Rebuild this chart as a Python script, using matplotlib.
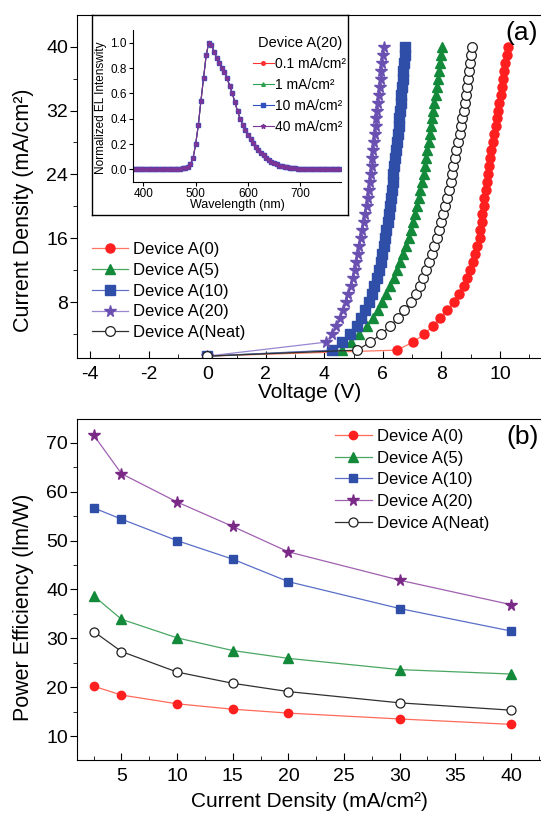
import matplotlib
matplotlib.use("Agg")
import matplotlib.pyplot as plt
from matplotlib.ticker import MultipleLocator, FormatStrFormatter

plt.rcParams['font.family'] = ['Liberation Sans', 'DejaVu Sans']
plt.rcParams['axes.unicode_minus'] = False

# ---- panel (a): J-V curves (current sweep levels, mA/cm2) ----
j_levels = [2, 3, 4, 5, 6, 7, 8, 9, 10, 11, 12, 13, 14, 15, 16, 17, 18, 19, 20,
            21, 22, 23, 24, 25, 26, 27, 28, 29, 30, 31, 32, 33, 34, 35, 36, 37,
            38, 39, 40]
j_start = 1.25  # point at 0 V

v_a0 = [6.47, 7.04, 7.41, 7.70, 7.95, 8.18, 8.42, 8.60, 8.76, 8.88, 8.98, 9.07,
        9.15, 9.23, 9.30, 9.33, 9.37, 9.40, 9.44, 9.47, 9.51, 9.54, 9.58, 9.62,
        9.66, 9.70, 9.75, 9.80, 9.85, 9.89, 9.94, 9.98, 10.02, 10.06, 10.10,
        10.14, 10.18, 10.23, 10.28]
v_a5 = [4.60, 4.90, 5.20, 5.45, 5.65, 5.82, 5.98, 6.12, 6.25, 6.37, 6.48, 6.58,
        6.68, 6.78, 6.88, 6.95, 7.02, 7.09, 7.16, 7.22, 7.28, 7.34, 7.39, 7.44,
        7.48, 7.52, 7.56, 7.60, 7.64, 7.68, 7.72, 7.76, 7.80, 7.84, 7.87, 7.91,
        7.94, 7.98, 8.01]
v_a10 = [4.26, 4.60, 4.88, 5.10, 5.26, 5.40, 5.52, 5.62, 5.71, 5.79, 5.86, 5.92,
         5.98, 6.03, 6.08, 6.12, 6.16, 6.20, 6.24, 6.27, 6.30, 6.33, 6.36, 6.39,
         6.42, 6.45, 6.48, 6.51, 6.54, 6.56, 6.59, 6.61, 6.63, 6.65, 6.67, 6.69,
         6.71, 6.74, 6.76]
v_a20 = [4.06, 4.25, 4.40, 4.52, 4.63, 4.74, 4.82, 4.90, 4.97, 5.03, 5.09,
         5.15, 5.20, 5.25, 5.30, 5.35, 5.39, 5.44, 5.48, 5.51, 5.55, 5.58, 5.62,
         5.64, 5.67, 5.70, 5.73, 5.76, 5.78, 5.81, 5.84, 5.86, 5.89, 5.92, 5.95,
         5.97, 6.00, 6.04]   # starts at 3 mA/cm2
v_neat = [5.13, 5.56, 5.94, 6.24, 6.50, 6.72, 6.95, 7.12, 7.26, 7.38, 7.48, 7.58,
          7.67, 7.76, 7.85, 7.92, 7.99, 8.06, 8.13, 8.19, 8.25, 8.31, 8.36, 8.41,
          8.46, 8.51, 8.56, 8.62, 8.67, 8.71, 8.76, 8.80, 8.84, 8.88, 8.91, 8.94,
          8.97, 9.00, 9.03]

# ---- inset: EL spectrum of Device A(20) ----
wl = [380, 385, 390, 395, 400, 405, 410, 415, 420, 425, 430, 435, 440, 445, 450,
      455, 460, 465, 470, 475, 480, 485, 490, 495, 500, 505, 510, 515, 520, 525,
      530, 535, 540, 545, 550, 555, 560, 565, 570, 575, 580, 585, 590, 595, 600,
      605, 610, 615, 620, 625, 630, 635, 640, 645, 650, 655, 660, 665, 670, 675,
      680, 685, 690, 695, 700, 705, 710, 715, 720, 725, 730, 735, 740, 745, 750,
      755, 760, 765, 770, 775]
el = [0.0, 0.0, 0.0, 0.0, 0.0, 0.0, 0.0, 0.0, 0.0, 0.0, 0.0, 0.0, 0.0, 0.0, 0.0,
      0.0, 0.0, 0.002, 0.004, 0.008, 0.013, 0.022, 0.04, 0.09, 0.20, 0.35, 0.54,
      0.72, 0.90, 1.0, 0.985, 0.93, 0.88, 0.84, 0.80, 0.77, 0.72, 0.66, 0.60,
      0.53, 0.46, 0.40, 0.35, 0.31, 0.27, 0.24, 0.21, 0.18, 0.155, 0.13, 0.11,
      0.09, 0.075, 0.06, 0.05, 0.04, 0.03, 0.025, 0.02, 0.015, 0.012, 0.01,
      0.008, 0.006, 0.005, 0.004, 0.003, 0.002, 0.002, 0.001, 0.001, 0.0, 0.0,
      0.0, 0.0, 0.0, 0.0, 0.0, 0.0, 0.0]
el_labels = ['0.1 mA/cm²', '1 mA/cm²', '10 mA/cm²', '40 mA/cm²']

# ---- panel (b): power efficiency ----
jd = [2.5, 5, 10, 15, 20, 30, 40]
pe_a0 = [20.2, 18.4, 16.6, 15.5, 14.7, 13.5, 12.4]
pe_a5 = [38.7, 33.9, 30.1, 27.5, 25.9, 23.6, 22.7]
pe_a10 = [56.7, 54.4, 50.0, 46.2, 41.6, 36.1, 31.5]
pe_a20 = [71.6, 63.7, 57.9, 52.9, 47.7, 41.9, 36.9]
pe_neat = [31.4, 27.3, 23.1, 20.8, 19.1, 16.8, 15.3]

names = ['Device A(0)', 'Device A(5)', 'Device A(10)', 'Device A(20)', 'Device A(Neat)']

fig = plt.figure(figsize=(5.41, 8.18), dpi=100)

# ================= panel (a) =================
ax1 = fig.add_axes([0.1423, 0.5627, 0.8577, 0.4184])
styles_a = [
    dict(marker='o', ms=6.5, mfc='#ff1f1f', mec='#ff1f1f', color='#ff7565'),
    dict(marker='^', ms=7.5, mfc='#13893a', mec='#13893a', color='#4aa762'),
    dict(marker='s', ms=6.5, mfc='#2f4ea8', mec='#2f4ea8', color='#6072c8'),
    dict(marker='*', ms=8.5, mfc='#6a50b0', mec='#6a50b0', color='#9886d0'),
    dict(marker='o', ms=7, mfc='white', mec='#202020', mew=0.9, color='#303030'),
]
jv = [(v_a0, j_levels), (v_a5, j_levels), (v_a10, j_levels),
      (v_a20, j_levels[1:]), (v_neat, j_levels)]
for (vv, jj), st, nm in zip(jv, styles_a, names):
    ax1.plot([0] + vv, [j_start] + jj, lw=0.9, label=nm, **st)

ax1.set_xlim(-4.45, 11.4)
ax1.set_ylim(1.05, 43.9)
ax1.xaxis.set_major_locator(MultipleLocator(2))
ax1.xaxis.set_minor_locator(MultipleLocator(1))
ax1.yaxis.set_minor_locator(MultipleLocator(4))
ax1.set_yticks([8, 16, 24, 32, 40])
ax1.spines['right'].set_visible(False)
ax1.tick_params(axis='x', which='both', direction='in', labelsize=14, pad=6)
ax1.tick_params(axis='x', which='major', length=5)
ax1.tick_params(axis='x', which='minor', length=3)
ax1.tick_params(axis='y', which='both', direction='out', labelsize=14, pad=1.5)
ax1.tick_params(axis='y', which='major', length=5)
ax1.tick_params(axis='y', which='minor', length=3)
ax1.set_xlabel('Voltage (V)', fontsize=15)
ax1.set_ylabel('Current Density (mA/cm²)', fontsize=15.5)
ax1.xaxis.set_label_coords(0.502, -0.075)
ax1.yaxis.set_label_coords(-0.092, 0.43)
ax1.legend(loc='upper left', bbox_to_anchor=(0.170, 0.7042),
           bbox_transform=fig.transFigure, frameon=False, fontsize=12,
           borderpad=0, borderaxespad=0, handlelength=2.15, handletextpad=0.3,
           labelspacing=0.35)
fig.text(0.965, 0.96, '(a)', ha='center', va='center', fontsize=19)

# inset frame and inset
frame = fig.add_axes([0.170, 0.7372, 0.4732, 0.2445])
frame.set_xticks([])
frame.set_yticks([])
for s in frame.spines.values():
    s.set_linewidth(1.0)

ins = fig.add_axes([0.2458, 0.7775, 0.3845, 0.1858])
ins_colors = ['#ff3030', '#2fa04e', '#3050c0', '#7a3596']
ins_markers = ['o', '^', 's', '*']
for c, m, lab in zip(ins_colors, ins_markers, el_labels):
    ins.plot(wl, el, color=c, lw=0.8, marker=m, ms=2.6 if m != '*' else 3.5,
             mfc=c, mec=c, label=lab)
ins.set_xlim(380, 778)
ins.set_ylim(-0.1, 1.1)
ins.set_xticks([400, 500, 600, 700])
ins.set_yticks([0.0, 0.2, 0.4, 0.6, 0.8, 1.0])
ins.yaxis.set_major_formatter(FormatStrFormatter('%.1f'))
ins.spines['right'].set_visible(False)
ins.spines['top'].set_visible(False)
ins.tick_params(labelsize=8.5, length=3, pad=1.5)
ins.set_xlabel('Wavelength (nm)', fontsize=9)
ins.set_ylabel('Normalized EL Intenswity', fontsize=8.5)
ins.xaxis.set_label_coords(0.5, -0.115)
ins.yaxis.set_label_coords(-0.125, 0.487)
ins.legend(loc='upper left', bbox_to_anchor=(0.4677, 0.956),
           bbox_transform=fig.transFigure, frameon=False, fontsize=10,
           title='Device A(20)', title_fontsize=10.5, borderpad=0,
           borderaxespad=0, handlelength=1.5, handletextpad=0.1,
           labelspacing=0.5)

# ================= panel (b) =================
ax2 = fig.add_axes([0.1423, 0.0709, 0.8577, 0.4169])
styles_b = [
    dict(marker='o', ms=6, mfc='#ff1f1f', mec='#ff1f1f', color='#ff6a5a'),
    dict(marker='^', ms=7, mfc='#13893a', mec='#13893a', color='#4aa762'),
    dict(marker='s', ms=5.8, mfc='#2f4ea8', mec='#2f4ea8', color='#5a6ec8'),
    dict(marker='*', ms=8.5, mfc='#7a2a86', mec='#7a2a86', color='#a060b0'),
    dict(marker='o', ms=6.5, mfc='white', mec='#202020', mew=0.9, color='#303030'),
]
for pe, st, nm in zip([pe_a0, pe_a5, pe_a10, pe_a20, pe_neat], styles_b, names):
    ax2.plot(jd, pe, lw=0.9, label=nm, **st)

ax2.set_xlim(1.0, 42.7)
ax2.set_ylim(5.1, 74.9)
ax2.xaxis.set_major_locator(MultipleLocator(5))
ax2.xaxis.set_minor_locator(MultipleLocator(2.5))
ax2.yaxis.set_major_locator(MultipleLocator(10))
ax2.yaxis.set_minor_locator(MultipleLocator(5))
ax2.spines['right'].set_visible(False)
ax2.tick_params(axis='x', which='both', direction='in', labelsize=14, pad=6)
ax2.tick_params(axis='x', which='major', length=5)
ax2.tick_params(axis='x', which='minor', length=3)
ax2.tick_params(axis='y', which='both', direction='out', labelsize=14, pad=1.5)
ax2.tick_params(axis='y', which='major', length=5)
ax2.tick_params(axis='y', which='minor', length=3)
ax2.set_xlabel('Current Density (mA/cm²)', fontsize=15)
ax2.set_ylabel('Power Efficiency (lm/W)', fontsize=15.5)
ax2.xaxis.set_label_coords(0.502, -0.095)
ax2.yaxis.set_label_coords(-0.092, 0.447)
ax2.legend(loc='upper left', bbox_to_anchor=(0.619, 0.4756),
           bbox_transform=fig.transFigure, frameon=False, fontsize=12,
           borderpad=0, borderaxespad=0, handlelength=2.2, handletextpad=0.3,
           labelspacing=0.4)
fig.text(0.965, 0.466, '(b)', ha='center', va='center', fontsize=19)

fig.savefig('out.png', dpi=100)
